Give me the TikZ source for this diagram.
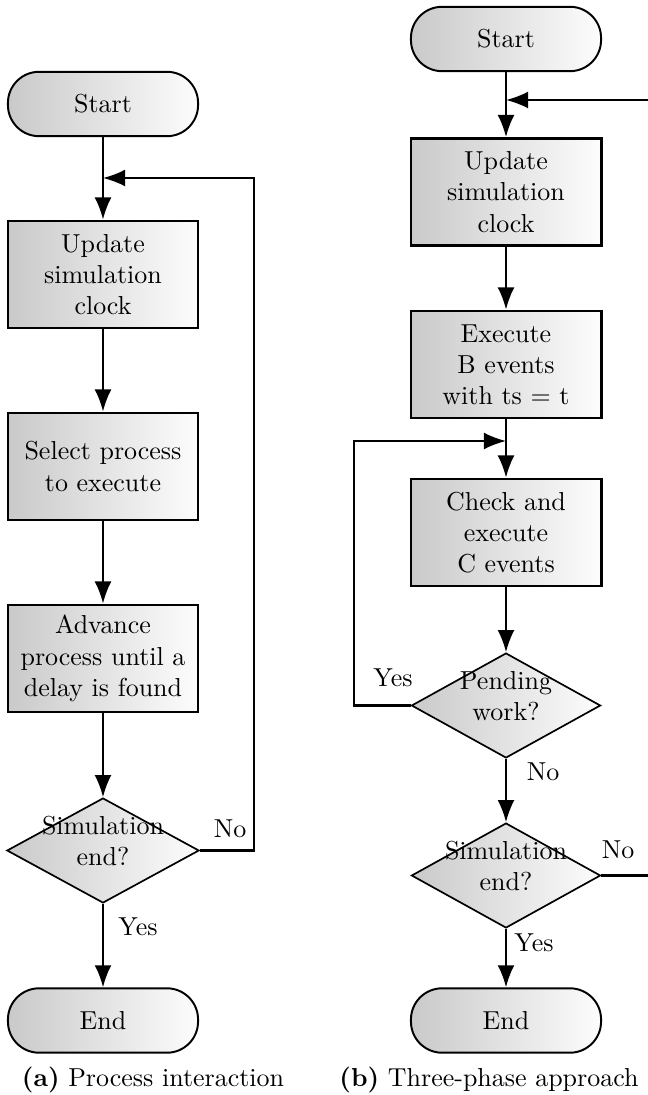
\documentclass[tikz,border=0pt]{standalone}
\usetikzlibrary{shapes.geometric,arrows.meta}

% text of a decision node, kept out of the diamond's size computation
\newcommand{\dectext}[1]{\smash{\makebox[0pt]{\begin{tabular}{@{}c@{}}#1\end{tabular}}}}

\tikzset{
  shade lr/.style={left color=black!21, right color=black!1},
  terminal/.style={shade lr, draw, line width=0.75pt, rounded corners=12pt,
    minimum width=73.2pt, minimum height=24.8pt, inner sep=0pt},
  procbox/.style={shade lr, draw, line width=1.1pt, minimum width=73.2pt,
    minimum height=41.2pt, text width=70pt, align=center, inner sep=1pt},
  decision/.style={shade lr, draw, line width=0.65pt, diamond, inner sep=0pt,
    minimum width=74pt, minimum height=40.4pt},
  arr/.style={line width=0.8pt, -{Latex[length=8.5pt,width=6.5pt]}},
  lbl/.style={inner sep=0pt}
}

\begin{document}
\begin{tikzpicture}[x=0.385pt, y=-0.385pt]
  \clip (0,0) rectangle (648,1095);

  % ---------- (a) process interaction ----------
  \node[terminal] (s1) at (103,104) {Start};
  \node[procbox]  (u1) at (103,274.5) {Update\\simulation\\clock};
  \node[procbox]  (p1) at (103,466.5) {Select process\\to execute};
  \node[procbox]  (a1) at (103,658.5) {Advance\\process until a\\delay is found};
  \node[decision] (d1) at (103,850.5) {\dectext{Simulation\\end?}};
  \node[terminal] (e1) at (103,1020.5) {End};

  \coordinate (j1) at (103,178);
  \coordinate (f1) at (254,178);

  \draw[arr] (s1.south) -- (u1.north);
  \draw[arr] (u1) -- (p1);
  \draw[arr] (p1) -- (a1);
  \draw[arr] (a1.south) -- (d1.north);
  \draw[arr] (d1.south) -- (e1.north);
  \draw[arr] (d1.east) -| (f1) -- (j1);

  \node[lbl] (n1) at (230,829) {No};
  \node[lbl] (y1) at (138,927) {Yes};

  \node (capa) at (153,1080) {\textbf{(a)} Process interaction};

  % ---------- (b) three-phase approach ----------
  \node[terminal] (s2) at (506,39) {Start};
  \node[procbox]  (u2) at (506,192) {Update\\simulation\\clock};
  \node[procbox]  (b2) at (506,364.5) {Execute\\B events\\with ts = t};
  \node[procbox]  (c2) at (506,532.5) {Check and\\execute\\C events};
  \node[decision, minimum width=72.8pt] (d2) at (506,705.5) {\dectext{Pending\\work?}};
  \node[decision, minimum width=72.8pt] (d3) at (506,875.5) {\dectext{Simulation\\end?}};
  \node[terminal] (e2) at (506,1020.5) {End};

  \coordinate (j2) at (506,100);
  \coordinate (j3) at (506,441);
  \coordinate (f2) at (354,441);
  \coordinate (f3a) at (680,875.5);
  \coordinate (f3b) at (680,100);

  \draw[arr] (s2.south) -- (u2.north);
  \draw[arr] (u2) -- (b2);
  \draw[arr] (b2) -- (c2);
  \draw[arr] (c2.south) -- (d2.north);
  \draw[arr] (d2.south) -- (d3.north);
  \draw[arr] (d3.south) -- (e2.north);
  \draw[arr] (d2.west) -| (f2) -- (j3);
  \draw[arr] (d3.east) -- (f3a) -- (f3b) -- (j2);

  \node[lbl] (y2) at (393,678) {Yes};
  \node[lbl] (n2) at (543,772) {No};
  \node[lbl] (n3) at (618,850) {No};
  \node[lbl] (y3) at (534,943) {Yes};

  \node (capb) at (489,1080) {\textbf{(b)} Three-phase approach};
\end{tikzpicture}
\end{document}
